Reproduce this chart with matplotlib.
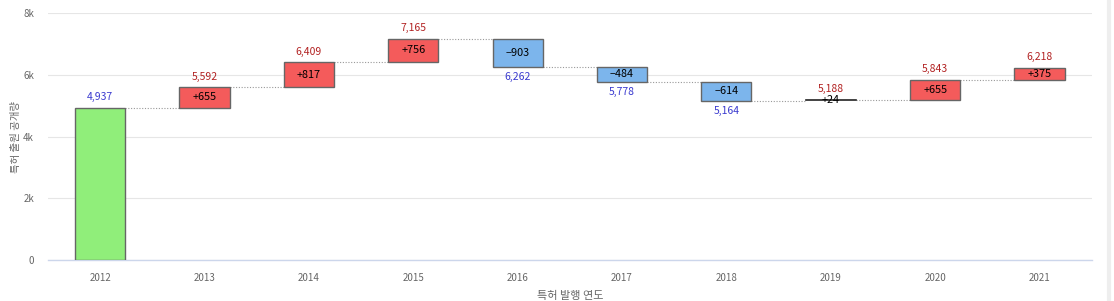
import matplotlib
matplotlib.use("Agg")
import matplotlib.pyplot as plt

plt.rcParams['font.family'] = ['Noto Sans CJK KR', 'DejaVu Sans']

years = ["2012", "2013", "2014", "2015", "2016", "2017", "2018", "2019", "2020", "2021"]
start_value = 4937
deltas = [655, 817, 756, -903, -484, -614, 24, 655, 375]
y_ticks = [0, 2000, 4000, 6000, 8000]
y_tick_labels = ["0", "2k", "4k", "6k", "8k"]

c_green = "#90EE7A"
c_red = "#F45B5B"
c_blue = "#7CB5EC"
c_edge = "#666666"
c_total_up = "#B22222"
c_total_down = "#3A3ACF"

fig = plt.figure(figsize=(11.14, 3.01), dpi=100)
ax = fig.add_axes([0.043, 0.136, 0.937, 0.821])

width = 0.48
x = list(range(len(years)))

# initial bar
ax.bar(0, start_value, width=width, bottom=0, color=c_green, edgecolor=c_edge, linewidth=1, zorder=3)
ax.text(0, start_value + 180, f"{start_value:,}", ha="center", va="bottom", fontsize=7.5,
        color=c_total_down, zorder=4)

level = start_value
for i, d in enumerate(deltas, start=1):
    new = level + d
    # connector
    ax.plot([i - 1 + width / 2, i - width / 2], [level, level], linestyle=(0, (1, 1.5)),
            color="#999999", linewidth=0.8, zorder=2)
    col = c_red if d > 0 else c_blue
    if abs(d) < 50:
        ax.plot([i - width / 2, i + width / 2], [new, new], color="#222222", linewidth=1.2, zorder=3)
    else:
        ax.bar(i, d, width=width, bottom=level, color=col, edgecolor=c_edge, linewidth=1, zorder=3)
    mid = level + d / 2
    sign = "+" if d > 0 else "\u2212"
    ax.text(i, mid, f"{sign}{abs(d)}", ha="center", va="center", fontsize=7.8, color="black", zorder=4)
    if d > 0:
        ax.text(i, max(level, new) + 180, f"{new:,}", ha="center", va="bottom", fontsize=7.5,
                color=c_total_up, zorder=4)
    else:
        ax.text(i, min(level, new) - 180, f"{new:,}", ha="center", va="top", fontsize=7.5,
                color=c_total_down, zorder=4)
    level = new

ax.set_xlim(-0.5, len(years) - 0.5)
ax.set_ylim(0, 8000)
ax.set_xticks(x)
ax.set_xticklabels(years)
ax.set_yticks(y_ticks)
ax.set_yticklabels(y_tick_labels)
ax.tick_params(axis="both", length=0, labelsize=7, colors="#666666")
ax.tick_params(axis="x", pad=9)
ax.tick_params(axis="y", pad=10)
ax.grid(axis="y", color="#E6E6E6", linewidth=0.8, zorder=0)
ax.set_axisbelow(True)
for s in ["top", "right", "left"]:
    ax.spines[s].set_visible(False)
ax.spines["bottom"].set_color("#CCD6EB")
ax.spines["bottom"].set_linewidth(1)

ax.set_xlabel("특허 발행 연도", fontsize=8, color="#666666", labelpad=6)
ax.set_ylabel("특허 출원 공개량", fontsize=7.5, color="#666666")
ax.yaxis.set_label_coords(-0.026, 0.5)

fig.add_artist(plt.Line2D([0.9955, 0.9955], [0, 1], color="#EEEEEE", linewidth=3, transform=fig.transFigure))

fig.savefig("out.png", dpi=100)
